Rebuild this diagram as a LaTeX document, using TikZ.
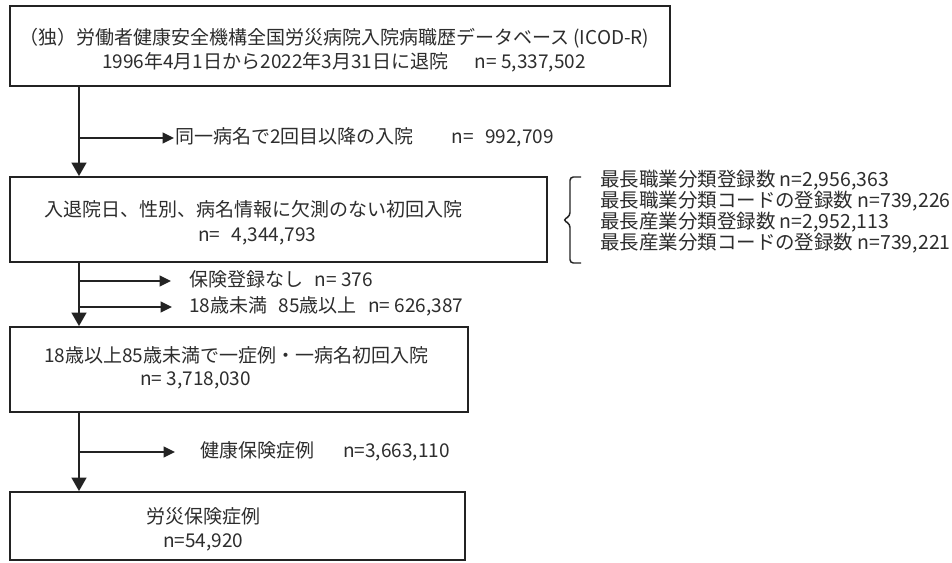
\documentclass[tikz,border=0pt]{standalone}
\usepackage{fontspec}
\setmainfont{Noto Sans CJK JP}
\usetikzlibrary{arrows.meta,fit}
\definecolor{ink}{RGB}{35,35,35}
\definecolor{txt}{RGB}{45,45,45}
\begin{document}
\begin{tikzpicture}[x=0.75pt,y=-0.75pt,
 box/.style={draw=ink,line width=1.4pt,inner sep=0pt},
 lbl/.style={anchor=west,inner sep=0pt,text=txt,font=\fontsize{14.25}{17}\selectfont,text height=11.5pt,text depth=2.8pt},
 rlbl/.style={lbl,font=\fontsize{14.6}{17}\selectfont},
 flow/.style={draw=ink,line width=1.5pt},
 varrow/.style={flow,-{Triangle[length=10pt,width=11pt]}},
 harrow/.style={flow,-{Triangle[length=8.5pt,width=8pt]}},
]
\useasboundingbox[fill=white] (0,0) rectangle (952,562);

% box 1
\node[box,fit={(10,6) (670,86)}] (box1) {};
\node[lbl] (t1a) at (19,39) {（独）労働者健康安全機構全国労災病院入院病職歴データベース (ICOD-R)};
\node[lbl] (t1b) at (102,63) {1996年4月1日から2022年3月31日に退院\hspace{1.4em}n= 5,337,502};

% box 2
\node[box,fit={(10,177) (547,262)}] (box2) {};
\node[lbl] (t2a) at (44,211) {入退院日、性別、病名情報に欠測のない初回入院};
\node[lbl] (t2b) at (198,236) {n=\hspace{0.6em}4,344,793};

% box 3
\node[box,fit={(10,327) (468,412)}] (box3) {};
\node[lbl] (t3a) at (44,357) {18歳以上85歳未満で一症例・一病名初回入院};
\node[lbl] (t3b) at (140,380) {n= 3,718,030};

% box 4
\node[box,fit={(10,492) (465,560)}] (box4) {};
\node[lbl] (t4a) at (146,518) {労災保険症例};
\node[lbl] (t4b) at (163,542) {n=54,920};

% side labels
\node[lbl] (e1) at (175,138) {同一病名で2回目以降の入院\hspace{2em}n=\hspace{0.6em}992,709};
\node[lbl] (e2) at (189,281) {保険登録なし\hspace{0.6em}n= 376};
\node[lbl] (e3) at (189,307) {18歳未満\hspace{0.6em}85歳以上\hspace{0.6em}n= 626,387};
\node[lbl] (e4a) at (200,452) {健康保険症例};
\node[lbl] (e4b) at (343,452) {n=3,663,110};

% bracket texts
\node[rlbl] (r1) at (600,181) {最長職業分類登録数 n=2,956,363};
\node[rlbl] (r2) at (600,202) {最長職業分類コードの登録数 n=739,226};
\node[rlbl] (r3) at (600,223) {最長産業分類登録数 n=2,952,113};
\node[rlbl] (r4) at (600,244) {最長産業分類コードの登録数 n=739,221};

% bracket
\draw[ink,line width=1.1pt,rounded corners=2.5pt] (581,177) -- (570,177) -- (570,216) -- (563,220) -- (570,224) -- (570,263) -- (581,263);

% connectors
\coordinate (s1) at (79,86);
\coordinate (j1) at (79,138);
\coordinate (k1) at (174,138);
\draw[varrow] (s1) -- (s1 |- box2.north);
\draw[harrow] (j1) -- (k1);

\coordinate (s2) at (79,262);
\coordinate (j2) at (79,281);
\coordinate (k2) at (171,281);
\coordinate (j3) at (79,307);
\coordinate (k3) at (172,307);
\draw[varrow] (s2) -- (s2 |- box3.north);
\draw[harrow] (j2) -- (k2);
\draw[harrow] (j3) -- (k3);

\coordinate (s3) at (79,412);
\coordinate (j4) at (79,452);
\coordinate (k4) at (175,452);
\draw[varrow] (s3) -- (s3 |- box4.north);
\draw[harrow] (j4) -- (k4);
\end{tikzpicture}
\end{document}
